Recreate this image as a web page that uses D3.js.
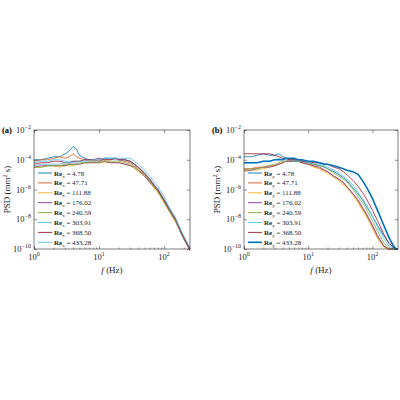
<!DOCTYPE html><html><head><meta charset="utf-8">
<script src="https://cdn.jsdelivr.net/npm/d3@7"></script>
<style>body{margin:0;background:#fff}text{font-family:"Liberation Serif","DejaVu Serif",serif}</style></head><body>
<svg id="s" width="400" height="400"></svg>
<script>
const freqs=[1,1.3,1.6,2,2.5,3,3.5,4,4.5,5,6,7,8,10,12,15,18,20,25,30,35,40,50,60,70,80,100,120,150,180,200,230,250];
const reVals=["4.78","47.71","111.88","176.02","240.59","303.91","368.50","433.28"];
const colorsA=["#0072BD","#D95319","#EDB120","#7E2F8E","#77AC30","#4DBEEE","#A2142F","#5DB6E8"];
const colorsB=["#0072BD","#D95319","#EDB120","#7E2F8E","#77AC30","#4DBEEE","#A2142F","#0072BD"];
// log10 PSD values, panel (a)
const psdA=[
[-4.0,-4.0,-3.9,-3.8,-3.8,-3.6,-3.4,-3.1,-3.3,-3.7,-3.9,-4.0,-4.0,-4.1,-3.9,-3.9,-3.9,-4.0,-4.0,-4.1,-4.3,-4.5,-4.9,-5.3,-5.7,-6.0,-6.7,-7.3,-8.0,-8.8,-9.2,-9.7,-10.0],
[-4.1,-4.0,-4.0,-3.9,-3.8,-3.9,-3.8,-3.6,-3.8,-3.9,-4.0,-4.1,-4.0,-4.1,-4.0,-4.0,-3.9,-4.0,-4.1,-4.2,-4.4,-4.6,-5.0,-5.4,-5.8,-6.1,-6.8,-7.4,-8.1,-8.8,-9.3,-9.8,-10.1],
[-4.5,-4.5,-4.4,-4.4,-4.5,-4.4,-4.4,-4.4,-4.3,-4.3,-4.2,-4.2,-4.2,-4.2,-4.2,-4.2,-4.2,-4.2,-4.3,-4.4,-4.6,-4.8,-5.1,-5.5,-5.9,-6.2,-6.9,-7.5,-8.2,-8.9,-9.3,-9.8,-10.1],
[-4.5,-4.4,-4.4,-4.4,-4.4,-4.4,-4.3,-4.3,-4.3,-4.3,-4.2,-4.2,-4.2,-4.2,-4.1,-4.2,-4.2,-4.2,-4.3,-4.4,-4.5,-4.7,-5.1,-5.5,-5.8,-6.1,-6.8,-7.4,-8.1,-8.9,-9.3,-9.8,-10.1],
[-4.5,-4.5,-4.4,-4.4,-4.4,-4.3,-4.3,-4.3,-4.3,-4.2,-4.2,-4.2,-4.1,-4.2,-4.1,-4.1,-4.1,-4.1,-4.2,-4.3,-4.5,-4.7,-5.0,-5.4,-5.8,-6.1,-6.8,-7.4,-8.1,-8.8,-9.3,-9.7,-10.0],
[-4.2,-4.1,-4.1,-4.0,-4.0,-4.1,-4.1,-4.1,-4.1,-4.1,-4.0,-4.0,-4.0,-4.0,-3.9,-3.9,-4.0,-4.0,-4.0,-4.1,-4.3,-4.5,-4.9,-5.3,-5.7,-6.0,-6.7,-7.3,-8.0,-8.8,-9.2,-9.7,-10.0],
[-4.3,-4.2,-4.2,-4.1,-4.1,-4.2,-4.2,-4.1,-4.1,-4.1,-4.0,-4.0,-4.0,-3.9,-4.0,-4.0,-3.9,-4.0,-4.0,-4.1,-4.3,-4.5,-4.9,-5.3,-5.7,-6.0,-6.7,-7.3,-8.0,-8.8,-9.2,-9.7,-10.0],
[-4.4,-4.3,-4.3,-4.3,-4.3,-4.2,-4.2,-4.2,-4.2,-4.1,-4.1,-4.1,-4.0,-4.0,-3.9,-3.9,-3.9,-3.9,-3.9,-3.9,-4.1,-4.3,-4.7,-5.1,-5.5,-5.8,-6.5,-7.2,-7.9,-8.7,-9.1,-9.6,-9.9]];
// log10 PSD values, panel (b)
const psdB=[
[-3.8,-3.8,-3.7,-3.6,-3.7,-3.7,-3.6,-3.8,-3.9,-4.0,-4.0,-4.1,-4.1,-4.2,-4.3,-4.4,-4.5,-4.6,-4.8,-5.0,-5.2,-5.4,-5.9,-6.3,-6.7,-7.1,-7.8,-8.4,-9.1,-9.6,-9.8,-10.0,-10.0],
[-4.6,-4.6,-4.5,-4.5,-4.4,-4.4,-4.3,-4.2,-4.1,-4.1,-4.1,-4.1,-4.2,-4.3,-4.4,-4.6,-4.7,-4.8,-5.1,-5.3,-5.6,-5.8,-6.3,-6.8,-7.3,-7.7,-8.5,-9.2,-9.8,-10.0,-10.0,-10.0,-10.0],
[-4.8,-4.7,-4.7,-4.6,-4.5,-4.4,-4.3,-4.2,-4.1,-4.1,-4.1,-4.1,-4.2,-4.3,-4.5,-4.6,-4.8,-4.9,-5.2,-5.4,-5.7,-5.9,-6.4,-6.9,-7.4,-7.8,-8.6,-9.3,-9.9,-10.0,-10.0,-10.0,-10.0],
[-4.7,-4.7,-4.6,-4.5,-4.5,-4.4,-4.3,-4.2,-4.1,-4.1,-4.1,-4.1,-4.2,-4.3,-4.4,-4.5,-4.7,-4.8,-5.1,-5.3,-5.5,-5.8,-6.3,-6.7,-7.2,-7.6,-8.4,-9.1,-9.8,-10.0,-10.0,-10.0,-10.0],
[-4.7,-4.6,-4.6,-4.5,-4.4,-4.3,-4.2,-4.1,-4.1,-4.0,-4.0,-4.1,-4.1,-4.2,-4.3,-4.4,-4.5,-4.6,-4.9,-5.1,-5.3,-5.5,-6.0,-6.5,-6.9,-7.3,-8.1,-8.8,-9.6,-9.9,-10.0,-10.0,-10.0],
[-4.2,-4.2,-4.2,-4.1,-4.1,-4.0,-3.9,-4.0,-4.0,-4.0,-4.1,-4.1,-4.1,-4.2,-4.2,-4.3,-4.4,-4.5,-4.7,-4.9,-5.1,-5.3,-5.7,-6.2,-6.6,-7.0,-7.8,-8.5,-9.3,-9.8,-9.9,-10.0,-10.0],
[-3.6,-3.6,-3.6,-3.6,-3.6,-3.7,-3.8,-3.9,-3.9,-4.0,-4.0,-4.0,-4.1,-4.1,-4.2,-4.2,-4.3,-4.3,-4.5,-4.6,-4.8,-5.0,-5.4,-5.8,-6.2,-6.6,-7.4,-8.1,-9.0,-9.6,-9.8,-10.0,-10.0],
[-4.2,-4.2,-4.2,-4.1,-4.1,-4.0,-4.0,-4.0,-3.9,-3.9,-3.9,-4.0,-4.0,-4.1,-4.1,-4.2,-4.3,-4.3,-4.4,-4.5,-4.6,-4.7,-4.8,-5.0,-5.4,-5.8,-6.6,-7.4,-8.4,-9.2,-9.6,-10.0,-10.0]];
const xTicks=[1,10,100];
const yTicks=[-10,-8,-6,-4,-2];

const svg=d3.select("#s");
function panel(left,right,label,sub,data,colors,thickLast){
  const top=130,bottom=249;
  const x=d3.scaleLog().domain([1,250]).range([left,right]);
  const y=d3.scaleLinear().domain([-10,-2]).range([bottom,top]);
  const g=svg.append("g");
  const line=d3.line().x((d,i)=>x(freqs[i])).y(d=>y(Math.max(-10.3,d)));
  g.append("clipPath").attr("id","c"+label).append("rect").attr("x",left).attr("y",top).attr("width",right-left).attr("height",bottom-top);
  data.forEach((s,k)=>{
    g.append("path").datum(s).attr("d",line).attr("fill","none").attr("stroke",colors[k])
     .attr("stroke-width",thickLast&&k===7?1.6:0.8).attr("clip-path",`url(#c${label})`);
  });
  // box
  g.append("rect").attr("x",left).attr("y",top).attr("width",right-left).attr("height",bottom-top).attr("fill","none").attr("stroke","#262626").attr("stroke-width",0.6);
  const xa=g.append("g").attr("transform",`translate(0,${bottom})`).call(d3.axisBottom(x).tickValues(xTicks).tickFormat("").tickSize(-3).tickSizeOuter(0));
  g.append("g").attr("transform",`translate(0,${top})`).call(d3.axisTop(x).tickValues(xTicks).tickFormat("").tickSize(-3).tickSizeOuter(0));
  const minor=[];for(let d=1;d<=100;d*=10)for(let m=2;m<=9;m++)if(d*m<=250)minor.push(d*m);
  g.append("g").attr("transform",`translate(0,${bottom})`).call(d3.axisBottom(x).tickValues(minor).tickFormat("").tickSize(-1.5).tickSizeOuter(0));
  g.append("g").attr("transform",`translate(${left},0)`).call(d3.axisLeft(y).tickValues(yTicks).tickFormat("").tickSize(-3).tickSizeOuter(0));
  g.append("g").attr("transform",`translate(${right},0)`).call(d3.axisRight(y).tickValues(yTicks).tickFormat("").tickSize(-3).tickSizeOuter(0));
  g.selectAll(".domain").remove();g.selectAll(".tick line").attr("stroke","#262626").attr("stroke-width",0.5);
  xTicks.forEach(t=>{const tx=g.append("text").attr("x",x(t)).attr("y",bottom+11).attr("text-anchor","middle").attr("font-size",8.5).attr("fill","#262626");
    tx.append("tspan").text("10");tx.append("tspan").attr("dy",-4).attr("font-size",6).text(Math.round(Math.log10(t)));});
  yTicks.forEach(t=>{const tx=g.append("text").attr("x",left-3).attr("y",y(t)+3).attr("text-anchor","end").attr("font-size",8.5).attr("fill","#262626");
    tx.append("tspan").text("10");tx.append("tspan").attr("dy",-4).attr("font-size",6).text("−"+(-t));});
  const xl=g.append("text").attr("x",(left+right)/2).attr("y",bottom+24).attr("text-anchor","middle").attr("font-size",9).attr("fill","#262626");
  xl.append("tspan").attr("font-style","italic").text("f");xl.append("tspan").text(" (Hz)");
  const yl=g.append("text").attr("transform",`translate(${left-24},${(top+bottom)/2}) rotate(-90)`).attr("text-anchor","middle").attr("font-size",9).attr("fill","#262626");
  yl.append("tspan").text("PSD (mm");yl.append("tspan").attr("dy",-3).attr("font-size",6).text("2");yl.append("tspan").attr("dy",3).text(" s)");
  g.append("text").attr("x",left-32).attr("y",top+3).attr("font-size",8.5).attr("font-weight","bold").text(label);
  reVals.forEach((v,k)=>{const ly=173+k*9.9;
    g.append("line").attr("x1",left+4).attr("x2",left+18).attr("y1",ly).attr("y2",ly).attr("stroke",colors[k]).attr("stroke-width",thickLast&&k===7?1.6:0.9);
    const t=g.append("text").attr("x",left+20).attr("y",ly+2.5).attr("font-size",7).attr("fill","#262626");
    t.append("tspan").attr("font-weight","bold").text("Re");t.append("tspan").attr("dy",2).attr("font-size",5).text(sub);
    t.append("tspan").attr("dy",-2).text(" = "+v);});
}
panel(34,190,"(a)","x",psdA,colorsA,false);
panel(244,398,"(b)","y",psdB,colorsB,true);
</script></body></html>
